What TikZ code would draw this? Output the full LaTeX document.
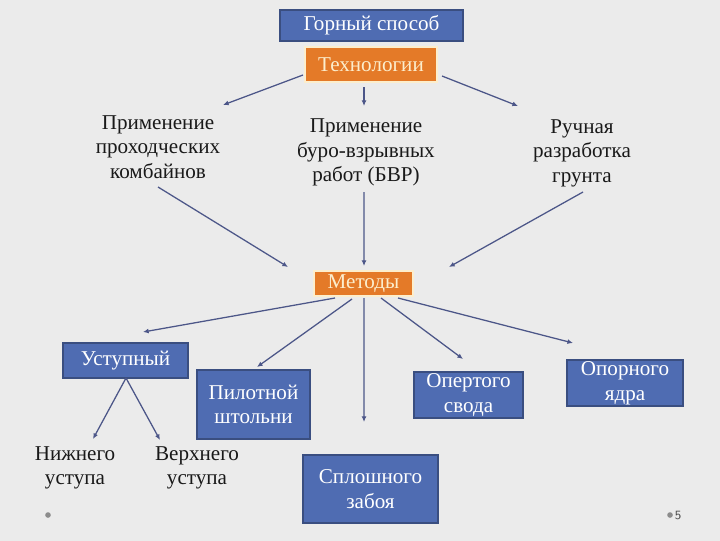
\documentclass[tikz,border=0pt]{standalone}
\usepackage{fontspec}
\setmainfont{Liberation Serif}
\usepackage{tikz}
\usepackage{xcolor}
\usetikzlibrary{positioning,arrows.meta,calc}

\definecolor{boxblue}{RGB}{79,108,178}
\definecolor{boxedge}{RGB}{58,78,128}
\definecolor{boxorange}{RGB}{228,122,40}
\definecolor{orangeedge}{RGB}{252,238,205}
\definecolor{linkcol}{RGB}{76,86,136}

\begin{document}
\begin{tikzpicture}[
      x=0.025cm, y=-0.025cm,
      blok/.style={draw=boxedge, line width=0.8pt, fill=boxblue, text=white, align=center, inner sep=0pt, font=\fontsize{15}{17.5}\selectfont},
      oranzh/.style={draw=orangeedge, line width=0.8pt, fill=boxorange, text=orangeedge, align=center, inner sep=0pt, font=\fontsize{15}{17.5}\selectfont},
      txt/.style={align=center, inner sep=0pt, text=black!90, font=\fontsize{15}{17.5}\selectfont},
      arr/.style={-{Latex[length=4pt,width=3.5pt]}, draw=linkcol, line width=0.9pt},
      dot/.style={circle, fill=black!45, inner sep=0pt, minimum size=4pt}
  ]
    \useasboundingbox (0,0) rectangle (720,540);
    \shade[left color=black!8, middle color=white, right color=black!8] (0,0) rectangle (720,540);

    % upper part
    \node[blok, minimum width=183*0.025cm, minimum height=31*0.025cm] (gorn) at (371.5,25.5) {Горный способ};
    \node[oranzh, minimum width=132*0.025cm, minimum height=35*0.025cm] (tech) at (371,64.5) {Технологии};

    \node[txt] (kombajn) at (158,147) {Применение\\проходческих\\комбайнов};
    \node[txt] (bvr) at (366,152.5) {Применение\\буро-взрывных\\работ (БВР)};
    \node[txt] (ruch) at (582,153) {Ручная\\разработка\\грунта};

    \draw[arr] ([shift={(-68,10.5)}]tech.center) -- ([shift={(65,-42)}]kombajn.center);
    \draw[arr] ([shift={(-7,22.5)}]tech.center) -- ([shift={(-2,-46.5)}]bvr.center);
    \draw[arr] ([shift={(71,11.5)}]tech.center) -- ([shift={(-64,-47)}]ruch.center);

    \node[oranzh, minimum width=99*0.025cm, minimum height=25*0.025cm] (metody) at (363.5,283.5) {Методы};

    \draw[arr] ([shift={(0,40)}]kombajn.center) -- ([shift={(-75.5,-16.5)}]metody.center);
    \draw[arr] ([shift={(-2,39.5)}]bvr.center) -- ([shift={(0.5,-17.5)}]metody.center);
    \draw[arr] ([shift={(1,39)}]ruch.center) -- ([shift={(85.5,-16.5)}]metody.center);

    % methods
    \node[blok, minimum width=125*0.025cm, minimum height=35*0.025cm] (ust) at (125.5,360.5) {Уступный};
    \node[blok, minimum width=113*0.025cm, minimum height=69*0.025cm] (pilot) at (253.5,404.5) {Пилотной\\штольни};
    \node[blok, minimum width=135*0.025cm, minimum height=68*0.025cm] (splosh) at (370.5,489) {Сплошного\\забоя};
    \node[blok, minimum width=109*0.025cm, minimum height=46*0.025cm] (opert) at (468.5,395) {Опертого\\свода};
    \node[blok, minimum width=116*0.025cm, minimum height=46*0.025cm] (opor) at (625,383) {Опорного\\ядра};

    \draw[arr] ([shift={(-28.5,14.5)}]metody.center) -- ([shift={(17.5,-28.5)}]ust.center);
    \draw[arr] ([shift={(-11.5,15.5)}]metody.center) -- ([shift={(3.5,-37.5)}]pilot.center);
    \draw[arr] ([shift={(0.5,14.5)}]metody.center) -- ([shift={(-6.5,-67)}]splosh.center);
    \draw[arr] ([shift={(17.5,14.5)}]metody.center) -- ([shift={(-5.5,-36)}]opert.center);
    \draw[arr] ([shift={(34.5,14.5)}]metody.center) -- ([shift={(-52,-40)}]opor.center);

    \node[txt] (nizh) at (75,468) {Нижнего\\уступа};
    \node[txt] (verh) at (197,468) {Верхнего\\уступа};
    \draw[arr] ([shift={(0.5,17.5)}]ust.center) -- ([shift={(18,-29)}]nizh.center);
    \draw[arr] ([shift={(0.5,17.5)}]ust.center) -- ([shift={(-37,-28)}]verh.center);

    % slide marks
    \node[dot] (dotl) at (48,515) {};
    \node[dot] (dotr) at (670,515) {};
    \node[right=1pt of dotr, inner sep=0pt, font=\sffamily\fontsize{9}{10}\selectfont, text=black!70] (pagenum) {5};
  \end{tikzpicture}
\end{document}
